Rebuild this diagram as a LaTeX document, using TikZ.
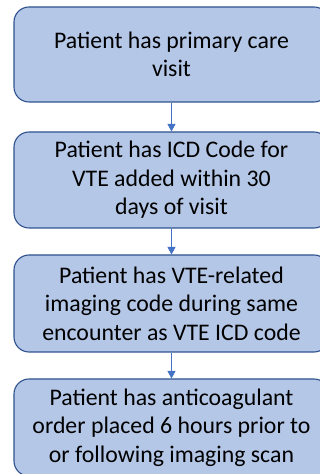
\documentclass[tikz,border=0pt]{standalone}
\usepackage{fontspec}
\setmainfont{Carlito}
\usetikzlibrary{arrows.meta}
\definecolor{boxfill}{HTML}{B4C7E7}
\definecolor{boxline}{HTML}{2F528F}
\definecolor{arrowblue}{HTML}{4472C4}
\tikzset{
  stepbox/.style={draw=boxline, line width=1.1pt, fill=boxfill,
    rounded corners=15pt, minimum width=315pt, inner sep=0pt,
    align=center, text=black,
    font=\fontsize{23.8}{28.4}\selectfont},
  flow/.style={draw=arrowblue, line width=0.9pt,
    -{Triangle[width=8pt,length=7.5pt]}}
}
\begin{document}
\begin{tikzpicture}[x=1pt,y=1pt]
  \useasboundingbox (0,0) rectangle (320,474);
  \clip (0,0) rectangle (320,474);
  \fill[white] (0,0) rectangle (320,474);
  \node[stepbox, minimum height=95pt] (s1) at (171.5,419.5)
    {Patient has primary care\\visit};
  \node[stepbox, minimum height=96pt] (s2) at (171.5,294)
    {Patient has ICD Code for\\VTE added within 30\\days of visit};
  \node[stepbox, minimum height=97pt] (s3) at (171.5,170.5)
    {Patient has VTE-related\\imaging code during same\\encounter as VTE ICD code};
  \node[stepbox, minimum height=97pt] (s4) at (171.5,46.5)
    {Patient has anticoagulant\\order placed 6 hours prior to\\or following imaging scan};
  \draw[flow] (s1) -- (s2);
  \draw[flow] (s2) -- (s3);
  \draw[flow] (s3) -- (s4);
\end{tikzpicture}
\end{document}
